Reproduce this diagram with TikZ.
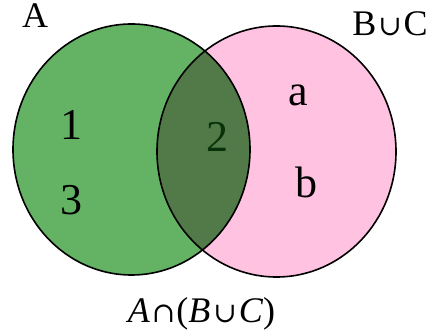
\documentclass[tikz,border=0pt]{standalone}
\usepackage{fontspec}
\setmainfont{Liberation Serif}
\newfontfamily\symfnt{DejaVu Serif}
\newcommand{\mycup}{{\symfnt\fontsize{28}{30}\selectfont ∪}}
\newcommand{\mycap}{{\symfnt\fontsize{28}{30}\selectfont ∩}}
\begin{document}
\begin{tikzpicture}[x=1pt,y=1pt,
  setline/.style={draw=black,line width=1.6pt},
  biglabel/.style={font=\fontsize{44}{46}\selectfont,anchor=base,inner sep=0pt},
  setlabel/.style={font=\fontsize{36}{38}\selectfont,anchor=base,inner sep=0pt}]
\definecolor{greenfill}{RGB}{100,178,100}
\definecolor{overlapfill}{RGB}{82,122,72}
\definecolor{pinkfill}{RGB}{255,194,224}
\definecolor{twocol}{RGB}{10,50,10}
\useasboundingbox (0,0) rectangle (435,336);
\fill[white] (0,0) rectangle (435,336);
\coordinate (gc) at (131.5,186.5);
\coordinate (pc) at (276.5,184.5);
% fills
\fill[pinkfill] (pc) ellipse [x radius=119.5, y radius=125.5];
\fill[greenfill] (gc) ellipse [x radius=118.5, y radius=125.5];
\begin{scope}
  \clip (pc) ellipse [x radius=119.5, y radius=125.5];
  \fill[overlapfill] (gc) ellipse [x radius=118.5, y radius=125.5];
\end{scope}
% outlines
\draw[setline] (pc) ellipse [x radius=119.5, y radius=125.5];
\draw[setline] (gc) ellipse [x radius=118.5, y radius=125.5];
% labels
\node[setlabel] (lA) at (35,308) {A};
\node[setlabel] (lBC) at (390,300) {B\kern2pt\mycup\kern2pt C};
\node[biglabel] (n1) at (71,196) {1};
\node[biglabel] (n3) at (71,121) {3};
\node[biglabel,text=twocol] (n2) at (217,184) {2};
\node[biglabel] (na) at (298,230) {a};
\node[biglabel] (nb) at (306,138) {b};
\node[setlabel] (lbot) at (201.5,13) {\textit{A}\kern2pt\mycap\kern1pt(\textit{B}\kern3pt\mycup\kern2pt\textit{C})};
\end{tikzpicture}
\end{document}
